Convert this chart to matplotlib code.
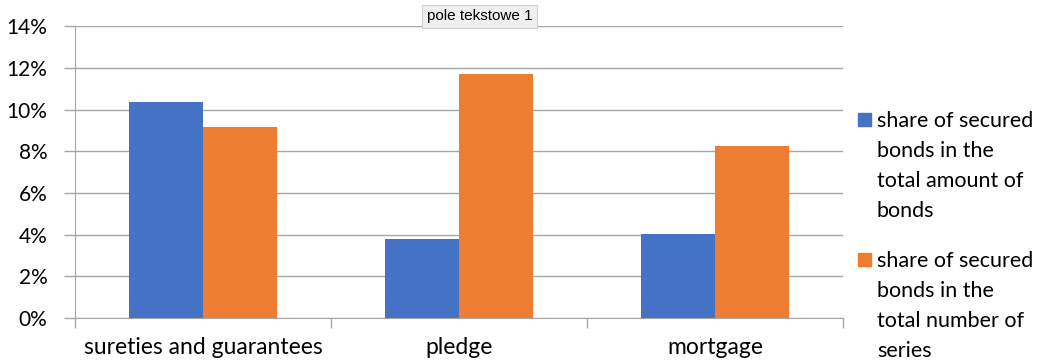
import numpy as np
import matplotlib.pyplot as plt
from matplotlib.patches import Rectangle
from matplotlib.ticker import PercentFormatter, FixedLocator

# data
categories = ["sureties and guarantees", "pledge", "mortgage"]
share_amount = [10.35, 3.8, 4.03]   # share of secured bonds in the total amount of bonds (%)
share_series = [9.15, 11.72, 8.25]  # share of secured bonds in the total number of series (%)
series_labels = [["share of secured", "bonds in the", "total amount of", "bonds"],
                 ["share of secured", "bonds in the", "total number of", "series"]]
y_ticks = [0, 2, 4, 6, 8, 10, 12, 14]

plt.rcParams['font.family'] = ['Lato', 'DejaVu Sans']

W, H = 1045, 363
fig = plt.figure(figsize=(W / 100, H / 100), dpi=100)
ax = fig.add_axes([0.0718, 0.124, 0.735, 0.804])

x = np.arange(len(categories))
w = 0.29
colors = ["#4472C4", "#ED7D31"]
ax.bar(x - w / 2, share_amount, w, color=colors[0], zorder=3)
ax.bar(x + w / 2, share_series, w, color=colors[1], zorder=3)

ax.set_xlim(-0.5, len(categories) - 0.5)
ax.set_ylim(0, 14)
ax.set_yticks(y_ticks)
ax.yaxis.set_major_formatter(PercentFormatter(decimals=0))
ax.yaxis.grid(True, color="#A6A6A6", lw=1, zorder=0)

ax.set_xticks(x)
ax.set_xticklabels(categories)
ax.xaxis.set_minor_locator(FixedLocator(np.arange(-0.5, len(categories), 1)))
ax.tick_params(axis="x", which="major", length=0, labelsize=16.5, pad=14)
ax.tick_params(axis="x", which="minor", length=7, color="#A6A6A6", width=1)
ax.tick_params(axis="y", length=8, color="#A6A6A6", width=1, labelsize=15, pad=12)

for s in ["top", "right"]:
    ax.spines[s].set_visible(False)
ax.spines["left"].set_color("#A6A6A6")
ax.spines["bottom"].set_color("#A6A6A6")

# legend drawn by hand: colour square next to first line, wrapped text
first_baselines = [127, 267]
pitch = 30
for col, lines, base in zip(colors, series_labels, first_baselines):
    fig.patches.append(Rectangle((858 / W, 1 - (base - 1) / H), 13 / W, 13 / H,
                                 transform=fig.transFigure, color=col))
    for i, line in enumerate(lines):
        fig.text(877 / W, 1 - (base + i * pitch) / H, line, fontsize=15.5,
                 ha="left", va="baseline")

# editor tooltip shown on the screenshot
fig.text(0.459, 0.955, "pole tekstowe 1", fontsize=11, family="Liberation Sans",
         ha="center", va="center",
         bbox=dict(boxstyle="square,pad=0.3", fc="#EFEFEF", ec="#CFCFCF", lw=0.8))

plt.savefig("out.png", dpi=100)
